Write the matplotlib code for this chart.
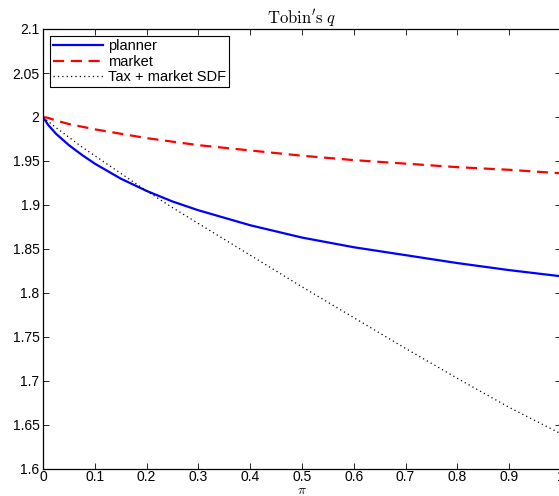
import matplotlib
matplotlib.use('Agg')
import matplotlib.pyplot as plt

plt.rcParams['font.family'] = ['Liberation Sans', 'DejaVu Sans']
plt.rcParams['mathtext.fontset'] = 'cm'

pi_grid = [0, 0.01, 0.025, 0.05, 0.075, 0.1, 0.15, 0.2, 0.25, 0.3, 0.4, 0.5,
           0.6, 0.7, 0.8, 0.9, 1.0]
planner = [2.0, 1.991, 1.981, 1.968, 1.957, 1.947, 1.930, 1.916, 1.904, 1.894,
           1.877, 1.863, 1.852, 1.843, 1.834, 1.826, 1.819]
market = [2.0, 1.999, 1.996, 1.992, 1.989, 1.986, 1.981, 1.976, 1.972, 1.968,
          1.962, 1.956, 1.951, 1.947, 1.943, 1.940, 1.936]
tax_sdf = [2.0, 1.995, 1.988, 1.977, 1.966, 1.956, 1.936, 1.916, 1.897, 1.879,
           1.843, 1.807, 1.772, 1.737, 1.703, 1.670, 1.640]

xticks = [0, 0.1, 0.2, 0.3, 0.4, 0.5, 0.6, 0.7, 0.8, 0.9, 1]
xtick_labels = ['0', '0.1', '0.2', '0.3', '0.4', '0.5', '0.6', '0.7', '0.8', '0.9', '1']
yticks = [1.6, 1.65, 1.7, 1.75, 1.8, 1.85, 1.9, 1.95, 2.0, 2.05, 2.1]
ytick_labels = ['1.6', '1.65', '1.7', '1.75', '1.8', '1.85', '1.9', '1.95', '2', '2.05', '2.1']

fig = plt.figure(figsize=(5.59, 4.96), dpi=100)
ax = fig.add_axes([43 / 559, 27 / 496, 518 / 559, 440 / 496])

ax.plot(pi_grid, planner, color='#0000ff', lw=1.6, label='planner')
ax.plot(pi_grid, market, color='#ff0000', lw=1.6, ls=(0, (5, 3)), label='market')
ax.plot(pi_grid, tax_sdf, color='black', lw=0.9, ls=(0, (1, 2.5)), label='Tax + market SDF')

ax.set_xlim(0, 1)
ax.set_ylim(1.6, 2.1)
ax.set_xticks(xticks)
ax.set_xticklabels(xtick_labels)
ax.set_yticks(yticks)
ax.set_yticklabels(ytick_labels)
ax.tick_params(direction='in', top=True, right=True, length=4, width=0.6,
               labelsize=10)
ax.tick_params(axis='x', pad=1)
ax.tick_params(axis='y', pad=2.5)
for s in ax.spines.values():
    s.set_linewidth(0.9)

ax.set_title(r"$\mathrm{Tobin's}\ q$", fontsize=12, pad=4)
ax.set_xlabel(r'$\pi$', fontsize=10, labelpad=-1)

leg = ax.legend(loc='upper left', fontsize=10.5, frameon=True, fancybox=False,
                edgecolor='black', framealpha=1, borderpad=0.2, handlelength=3.4,
                handletextpad=0.35, labelspacing=0.1, borderaxespad=0.5)
leg.get_frame().set_linewidth(0.8)

fig.savefig('out.png', dpi=100)
